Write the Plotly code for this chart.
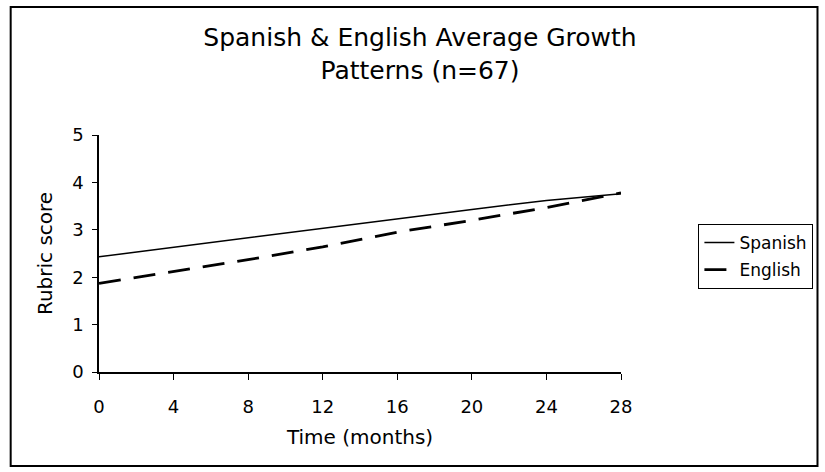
import plotly.graph_objects as go

months = [0, 4, 8, 12, 16, 20, 24, 28]
spanish = [2.43, 2.63, 2.83, 3.03, 3.24, 3.43, 3.62, 3.76]
english = [1.87, 2.12, 2.37, 2.64, 2.95, 3.20, 3.47, 3.78]
x_ticks = [0, 4, 8, 12, 16, 20, 24, 28]
y_ticks = [0, 1, 2, 3, 4, 5]

FONT = "DejaVu Sans, Liberation Sans, Arial, sans-serif"

fig = go.Figure()
fig.add_trace(go.Scatter(x=months, y=spanish, mode="lines", name="Spanish",
                         legendgroup="s",
                         line=dict(color="black", width=1.5)))
fig.add_trace(go.Scatter(x=months, y=english, mode="lines", name="English",
                         legendgroup="e",
                         line=dict(color="black", width=2.8, dash="22px,13px")))

L, R, T, B = 99, 200, 135, 100
W, H = 825, 472
pw, ph = W - L - R, H - T - B

def px_x(p):
    return (p - L) / pw

def px_y(p):
    return (H - B - p) / ph

fig.update_layout(
    width=W, height=H,
    margin=dict(l=L, r=R, t=T, b=B),
    paper_bgcolor="white", plot_bgcolor="white",
    font=dict(family=FONT, color="black", size=18),
    title=dict(text="Spanish & English Average Growth<br>Patterns (n=67)",
               x=420 / W, xanchor="center", y=1 - 46 / H, yanchor="middle",
               font=dict(size=25, family=FONT)),
    showlegend=True,
    legend=dict(x=px_x(703), y=px_y(224), xanchor="left", yanchor="top",
                bordercolor="black", borderwidth=1, bgcolor="white",
                font=dict(size=17, family=FONT), itemwidth=30,
                tracegroupgap=2),
    xaxis=dict(range=[0, 28], tickvals=x_ticks, showgrid=False, zeroline=False,
               showline=True, linecolor="black", linewidth=1.5,
               ticks="outside", ticklen=6, tickcolor="black",
               tickfont=dict(size=18), ticklabelstandoff=12,
               title=dict(text="Time (months)", font=dict(size=20), standoff=14)),
    yaxis=dict(range=[0, 5], tickvals=y_ticks, showgrid=False, zeroline=False,
               showline=True, linecolor="black", linewidth=1.5,
               ticks="outside", ticklen=5, tickcolor="black",
               tickfont=dict(size=18), ticklabelstandoff=5,
               title=dict(text="Rubric score", font=dict(size=20), standoff=14)),
    shapes=[dict(type="rect", xref="paper", yref="paper",
                 x0=px_x(10), x1=px_x(823), y0=px_y(466), y1=px_y(7),
                 line=dict(color="black", width=2), fillcolor="rgba(0,0,0,0)",
                 layer="above")],
)

fig.write_html("out.html", config={"displayModeBar": False},
               post_script="document.body.style.margin='0px';document.body.style.overflow='hidden';")
